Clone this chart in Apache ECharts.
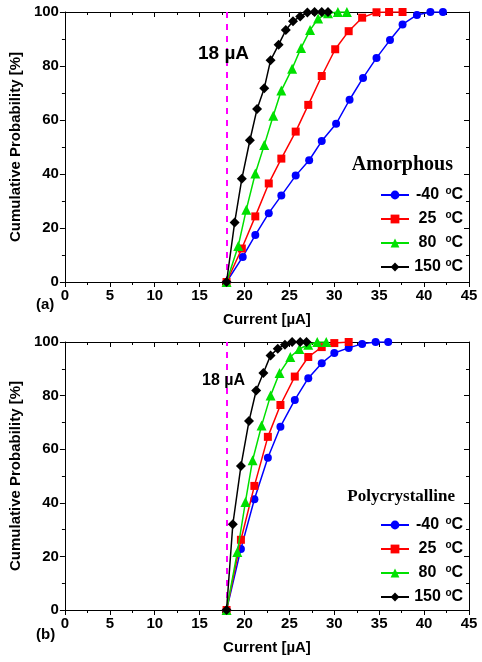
<!DOCTYPE html>
<html>
<head>
<meta charset="utf-8">
<script src="https://cdn.jsdelivr.net/npm/echarts@6/dist/echarts.min.js"></script>
<style>
  html, body { margin: 0; padding: 0; background: #fff; }
  #chart { width: 482px; height: 662px; }
</style>
</head>
<body>
<div id="chart"></div>
<script>
// temperatures (legend)
const temps = ['-40', '25', '80', '150'];

// (a) amorphous
const amM40X = [18, 19.8, 21.2, 22.7, 24.1, 25.7, 27.2, 28.6, 30.2, 31.7, 33.2, 34.7, 36.2, 37.6, 39.2, 40.7, 42.1];
const amM40Y = [0, 9.3, 17.4, 25.5, 32, 39.4, 45.1, 52.2, 58.6, 67.5, 75.6, 83, 89.6, 95.4, 98.9, 100, 100];
const am25X = [18, 19.7, 21.2, 22.7, 24.1, 25.7, 27.1, 28.6, 30.1, 31.6, 33.1, 34.7, 36.1, 37.6];
const am25Y = [0, 12.4, 24.3, 36.5, 45.7, 55.7, 65.6, 76.3, 86.2, 92.9, 97.9, 99.9, 100, 100];
const am80X = [18, 19.3, 20.2, 21.2, 22.2, 23.2, 24.1, 25.3, 26.3, 27.3, 28.2, 29.3, 30.4, 31.4];
const am80Y = [0, 13.3, 26.8, 40.2, 50.7, 61.6, 70.9, 79, 86.7, 93.3, 97.6, 99.5, 100, 100];
const am150X = [18, 18.9, 19.7, 20.6, 21.4, 22.2, 22.9, 23.8, 24.6, 25.4, 26.2, 27, 27.8, 28.6, 29.3];
const am150Y = [0, 22, 38.2, 52.5, 64.1, 71.8, 82.1, 87.9, 93.3, 96.6, 98.3, 99.8, 100, 100, 100];

// (b) polycrystalline
const pcM40X = [18, 19.6, 21.1, 22.6, 24.0, 25.6, 27.1, 28.6, 30.0, 31.6, 33.1, 34.6, 36.0];
const pcM40Y = [0, 22.8, 41.3, 56.8, 68.4, 78.4, 86.5, 92.1, 95.9, 97.8, 99.3, 100, 100];
const pc25X = [18, 19.6, 21.1, 22.6, 24.0, 25.6, 27.1, 28.6, 30.0, 31.6];
const pc25Y = [0, 26.2, 46.3, 64.6, 76.5, 87.1, 94.4, 98.1, 99.6, 100];
const pc80X = [18, 19.2, 20.1, 20.9, 21.9, 22.9, 23.9, 25.1, 26.1, 27.1, 28.1, 29.1];
const pc80Y = [0, 21.6, 40.3, 55.9, 68.8, 80, 88.4, 94.4, 97.4, 99, 100, 100];
const pc150X = [18, 18.7, 19.6, 20.5, 21.3, 22.1, 22.9, 23.7, 24.5, 25.3, 26.2, 26.9];
const pc150Y = [0, 32, 53.7, 70.5, 81.9, 88.4, 95, 97.5, 99, 100, 100, 100];

const threshold = 18;

const colors = ['#0000ff', '#ff0000', '#00e000', '#000000'];
const symbols = ['circle', 'rect', 'triangle', 'diamond'];
const symbolSizes = [8, 8, 10, 10];
const names = temps.map(t => t + ' °C');

const font = 'Liberation Sans, Arial, sans-serif';
const serif = 'Liberation Serif, Times New Roman, serif';

function pairs(xs, ys) {
  return xs.map((x, i) => [x, ys[i]]);
}

function lineSeries(k, xs, ys, axisIdx) {
  return {
    name: names[k],
    type: 'line',
    xAxisIndex: axisIdx,
    yAxisIndex: axisIdx,
    data: pairs(xs, ys),
    symbol: symbols[k],
    symbolSize: symbolSizes[k],
    showSymbol: true,
    itemStyle: {color: colors[k]},
    lineStyle: {color: colors[k], width: 1.5},
    z: 3 + k
  };
}

function bottomAxis(grid) {
  return {
    type: 'value', gridIndex: grid, position: 'bottom',
    min: 0, max: 45, interval: 5,
    name: 'Current [µA]', nameLocation: 'middle', nameGap: 30,
    nameTextStyle: {fontFamily: font, fontSize: 15, fontWeight: 'bold', color: '#000'},
    axisLine: {onZero: false, lineStyle: {color: '#000', width: 1}},
    axisTick: {inside: false, length: 5, lineStyle: {color: '#000'}},
    minorTick: {show: true, splitNumber: 2, length: 3, lineStyle: {color: '#000'}},
    axisLabel: {fontFamily: font, fontSize: 15, fontWeight: 'bold', color: '#000', margin: 6},
    splitLine: {show: false}
  };
}

function topAxis(grid) {
  return {
    type: 'value', gridIndex: grid, position: 'top',
    min: 0, max: 45, interval: 5,
    axisLine: {onZero: false, lineStyle: {color: '#000', width: 1}},
    axisTick: {inside: true, length: 5, lineStyle: {color: '#000'}},
    minorTick: {show: true, splitNumber: 2, length: 3, lineStyle: {color: '#000'}},
    axisLabel: {show: false},
    splitLine: {show: false}
  };
}

function leftAxis(grid) {
  return {
    type: 'value', gridIndex: grid, position: 'left',
    min: 0, max: 100, interval: 20,
    name: 'Cumulative Probability [%]', nameLocation: 'middle', nameGap: 38,
    nameTextStyle: {fontFamily: font, fontSize: 15, fontWeight: 'bold', color: '#000'},
    axisLine: {onZero: false, lineStyle: {color: '#000', width: 1}},
    axisTick: {inside: false, length: 5, lineStyle: {color: '#000'}},
    minorTick: {show: true, splitNumber: 2, length: 3, lineStyle: {color: '#000'}},
    axisLabel: {fontFamily: font, fontSize: 15, fontWeight: 'bold', color: '#000', margin: 6},
    splitLine: {show: false}
  };
}

function rightAxis(grid) {
  return {
    type: 'value', gridIndex: grid, position: 'right',
    min: 0, max: 100, interval: 20,
    axisLine: {onZero: false, lineStyle: {color: '#000', width: 1}},
    axisTick: {inside: true, length: 5, lineStyle: {color: '#000'}},
    minorTick: {show: true, splitNumber: 2, length: 3, lineStyle: {color: '#000'}},
    axisLabel: {show: false},
    splitLine: {show: false}
  };
}

function legendAt(top) {
  return {
    orient: 'vertical', left: 380, top: top, padding: 0,
    itemWidth: 28, itemHeight: 11, itemGap: 7,
    data: names,
    formatter: name => {
      const t = name.replace(' °C', '');
      return '{n|' + t + '}{g| }{s|o}{c|C}';
    },
    textStyle: {
      rich: {
        n: {fontFamily: font, fontSize: 16, fontWeight: 'bold', color: '#000', width: 27, align: 'right', lineHeight: 18},
        g: {fontFamily: font, fontSize: 16, lineHeight: 18},
        s: {fontFamily: font, fontSize: 10, fontWeight: 'bold', color: '#000', lineHeight: 10, verticalAlign: 'top'},
        c: {fontFamily: font, fontSize: 16, fontWeight: 'bold', color: '#000', lineHeight: 18}
      }
    }
  };
}

const thresholdLine = {
  silent: true,
  symbol: 'none',
  label: {show: false},
  lineStyle: {color: '#ff00ff', type: [6, 6], width: 2},
  data: [{xAxis: threshold}]
};

const amSeries = [
  lineSeries(0, amM40X, amM40Y, 0),
  lineSeries(1, am25X, am25Y, 0),
  lineSeries(2, am80X, am80Y, 0),
  lineSeries(3, am150X, am150Y, 0)
];
amSeries[0].markLine = thresholdLine;

const pcSeries = [
  lineSeries(0, pcM40X, pcM40Y, 2),
  lineSeries(1, pc25X, pc25Y, 2),
  lineSeries(2, pc80X, pc80Y, 2),
  lineSeries(3, pc150X, pc150Y, 2)
];
pcSeries[0].markLine = thresholdLine;

const chart = echarts.init(document.getElementById('chart'), null, {renderer: 'canvas'});
chart.setOption({
  animation: false,
  backgroundColor: '#fff',
  grid: [
    {left: 62, top: 12, width: 407, height: 270},
    {left: 62, top: 342, width: 407, height: 268}
  ],
  xAxis: [bottomAxis(0), topAxis(0), bottomAxis(1), topAxis(1)],
  yAxis: [leftAxis(0), rightAxis(0), leftAxis(1), rightAxis(1)],
  legend: [legendAt(186), legendAt(516)],
  title: [
    {text: '18 µA', left: 193, top: 39, textStyle: {fontFamily: font, fontSize: 19, fontWeight: 'bold', color: '#000'}},
    {text: '18 µA', left: 197, top: 368, textStyle: {fontFamily: font, fontSize: 16, fontWeight: 'bold', color: '#000'}},
    {text: 'Amorphous', right: 24, top: 150, textStyle: {fontFamily: serif, fontSize: 20, fontWeight: 'bold', color: '#000'}},
    {text: 'Polycrystalline', right: 22, top: 483, textStyle: {fontFamily: serif, fontSize: 17, fontWeight: 'bold', color: '#000'}},
    {text: '(a)', left: 31, top: 292, textStyle: {fontFamily: font, fontSize: 15, fontWeight: 'bold', color: '#000'}},
    {text: '(b)', left: 31, top: 622, textStyle: {fontFamily: font, fontSize: 15, fontWeight: 'bold', color: '#000'}}
  ],
  series: amSeries.concat(pcSeries)
});
</script>
</body>
</html>
